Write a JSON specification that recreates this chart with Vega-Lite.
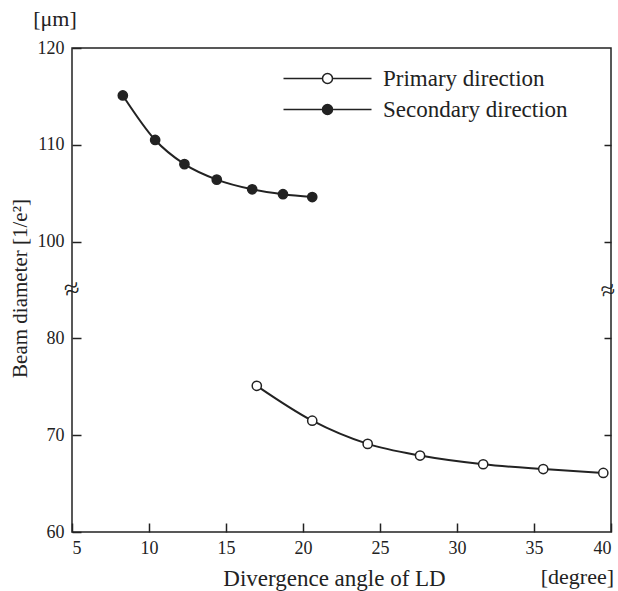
{
  "$schema": "https://vega.github.io/schema/vega-lite/v6.json",
  "width": 539,
  "height": 484,
  "autosize": {"type": "none"},
  "padding": {"left": 72, "top": 48, "right": 7, "bottom": 59},
  "background": "white",
  "config": {
    "font": "Liberation Serif",
    "view": {"stroke": "#222", "strokeWidth": 1.5},
    "axis": {
      "labelFont": "Liberation Serif",
      "titleFont": "Liberation Serif",
      "labelColor": "#222",
      "titleColor": "#222",
      "tickColor": "#222",
      "domainColor": "#222",
      "tickWidth": 1.5,
      "grid": false,
      "titleFontWeight": "normal",
      "labelFontSize": 18,
      "titleFontSize": 22
    }
  },
  "data": {
    "values": [
      {"series": "Secondary direction", "angle": 8.3, "diameter": 115.1},
      {"series": "Secondary direction", "angle": 10.4, "diameter": 110.5},
      {"series": "Secondary direction", "angle": 12.3, "diameter": 108.0},
      {"series": "Secondary direction", "angle": 14.4, "diameter": 106.4},
      {"series": "Secondary direction", "angle": 16.7, "diameter": 105.4},
      {"series": "Secondary direction", "angle": 18.7, "diameter": 104.9},
      {"series": "Secondary direction", "angle": 20.6, "diameter": 104.6},
      {"series": "Primary direction", "angle": 17.0, "diameter": 75.1},
      {"series": "Primary direction", "angle": 20.6, "diameter": 71.5},
      {"series": "Primary direction", "angle": 24.2, "diameter": 69.1},
      {"series": "Primary direction", "angle": 27.6, "diameter": 67.9},
      {"series": "Primary direction", "angle": 31.7, "diameter": 67.0},
      {"series": "Primary direction", "angle": 35.6, "diameter": 66.5},
      {"series": "Primary direction", "angle": 39.5, "diameter": 66.1}
    ]
  },
  "layer": [
    {
      "mark": {"type": "line", "interpolate": "monotone", "color": "#222", "strokeWidth": 2},
      "encoding": {
        "x": {
          "field": "angle", "type": "quantitative",
          "scale": {"domain": [5, 40], "nice": false, "zero": false},
          "axis": {
            "orient": "bottom",
            "values": [5, 10, 15, 20, 25, 30, 35, 40],
            "tickSize": -9,
            "domain": false,
            "labelPadding": 16,
            "title": "Divergence angle of LD",
            "titleFontSize": 23,
            "titleX": 262,
            "titleY": 46,
            "titleBaseline": "middle"
          }
        },
        "y": {
          "field": "diameter", "type": "quantitative",
          "scale": {"domain": [60, 85, 95, 120], "range": [484, 242, 242, 0], "nice": false, "zero": false},
          "axis": {
            "values": [60, 70, 80, 100, 110, 120],
            "tickSize": -9,
            "domain": false,
            "labelPadding": 17,
            "title": "Beam diameter [1/e²]",
            "titleFontSize": 21,
            "titleAngle": 270,
            "titleX": -52,
            "titleY": 240,
            "titleAlign": "center",
            "titleBaseline": "middle"
          }
        },
        "detail": {"field": "series"}
      }
    },
    {
      "mark": {"type": "point", "filled": true, "stroke": "#222", "strokeWidth": 1.5, "size": 85, "opacity": 1},
      "encoding": {
        "x": {"field": "angle", "type": "quantitative"},
        "y": {
          "field": "diameter", "type": "quantitative",
          "axis": {
            "orient": "right",
            "values": [70, 80, 100, 110],
            "tickSize": -7,
            "labels": false,
            "domain": false,
            "title": null
          }
        },
        "fill": {
          "field": "series", "type": "nominal",
          "scale": {"domain": ["Primary direction", "Secondary direction"], "range": ["white", "#222"]},
          "legend": {
            "orient": "none",
            "legendX": 244,
            "legendY": 19,
            "title": null,
            "padding": 0,
            "symbolType": "M-4.4,0H-0.5M0.5,0H4.4M0.5,0A0.5,0.5 0 1,1 -0.5,0A0.5,0.5 0 1,1 0.5,0Z",
            "symbolSize": 400,
            "symbolStrokeColor": "#222",
            "symbolStrokeWidth": 1.5,
            "labelFont": "Liberation Serif",
            "labelFontSize": 23,
            "labelColor": "#222",
            "labelOffset": 44,
            "labelLimit": 0,
            "rowPadding": 7
          }
        }
      }
    },
    {
      "data": {"values": [{}]},
      "mark": {"type": "text", "text": "≈", "fontSize": 28, "angle": -15, "baseline": "middle", "align": "center", "color": "#222"},
      "encoding": {
        "x": {"datum": 5, "type": "quantitative"},
        "y": {"datum": 90, "type": "quantitative", "axis": null}
      }
    },
    {
      "data": {"values": [{}]},
      "mark": {"type": "text", "text": "≈", "fontSize": 26, "angle": -15, "baseline": "middle", "align": "center", "dx": -3, "color": "#222"},
      "encoding": {
        "x": {"datum": 40, "type": "quantitative"},
        "y": {"datum": 90, "type": "quantitative", "axis": null}
      }
    },
    {
      "data": {"values": [{}]},
      "mark": {"type": "text", "text": "[μm]", "fontSize": 22, "baseline": "middle", "align": "center", "dx": -17, "dy": -29, "color": "#222"},
      "encoding": {
        "x": {"datum": 5, "type": "quantitative"},
        "y": {"datum": 120, "type": "quantitative", "axis": null}
      }
    },
    {
      "data": {"values": [{}]},
      "mark": {"type": "text", "text": "[degree]", "fontSize": 22, "baseline": "middle", "align": "right", "dx": 3, "dy": 45, "color": "#222"},
      "encoding": {
        "x": {"datum": 40, "type": "quantitative"},
        "y": {"datum": 60, "type": "quantitative", "axis": null}
      }
    }
  ],
  "resolve": {"axis": {"x": "shared", "y": "independent"}}
}
